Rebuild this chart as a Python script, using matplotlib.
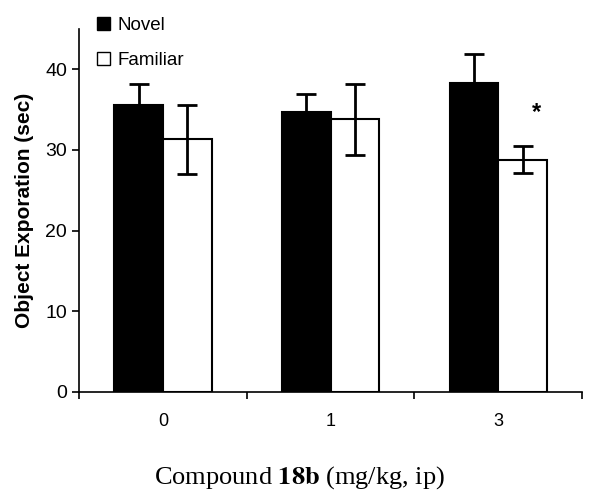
import numpy as np
import matplotlib.pyplot as plt
from matplotlib.patches import Patch

# Data
doses = ['0', '1', '3']
novel = [35.6, 34.7, 38.3]
novel_err = [2.6, 2.3, 3.6]
familiar = [31.3, 33.8, 28.8]
familiar_err = [4.3, 4.4, 1.7]

plt.rcParams['font.family'] = ['Liberation Sans', 'DejaVu Sans']
plt.rcParams['mathtext.fontset'] = 'stix'

fig = plt.figure(figsize=(5.91, 4.92), dpi=100)
ax = fig.add_axes([0.1337, 0.2038, 0.8513, 0.7372])

x = np.arange(len(doses))
w = 0.29

ax.bar(x - w/2, novel, w, color='black', edgecolor='black', linewidth=1.5, zorder=2)
ax.errorbar(x - w/2, novel, yerr=[np.zeros(3), novel_err], fmt='none',
            ecolor='black', elinewidth=2, capsize=7, capthick=2, zorder=3)
ax.bar(x + w/2, familiar, w, color='white', edgecolor='black', linewidth=1.5, zorder=2)
ax.errorbar(x + w/2, familiar, yerr=familiar_err, fmt='none',
            ecolor='black', elinewidth=2, capsize=7, capthick=2, zorder=3)

ax.text(2.23, 34.6, '*', fontsize=17, fontweight='bold', ha='center', va='center')

ax.set_xlim(-0.5, 2.5)
ax.set_ylim(0, 45)
ax.set_yticks([0, 10, 20, 30, 40])
ax.set_xticks(x)
ax.set_xticklabels(doses)
ax.set_xticks([-0.5, 0.5, 1.5, 2.5], minor=True)
ax.tick_params(axis='x', which='major', length=0, pad=15, labelsize=13)
ax.tick_params(axis='x', which='minor', length=5, width=1.2)
ax.tick_params(axis='y', length=5, width=1.2, labelsize=14)
for s in ['top', 'right']:
    ax.spines[s].set_visible(False)
for s in ['left', 'bottom']:
    ax.spines[s].set_linewidth(1.2)

ax.set_ylabel('Object Exporation (sec)', fontsize=15, fontweight='bold', labelpad=8)
fig.text(0.506, 0.03, r'Compound $\mathbf{18b}$ (mg/kg, ip)', fontsize=19,
         family='Liberation Serif', ha='center', va='center')

handles = [Patch(facecolor='black', edgecolor='black'),
           Patch(facecolor='white', edgecolor='black')]
fig.legend(handles, ['Novel', 'Familiar'], loc='upper left',
           bbox_to_anchor=(0.136, 1.0), frameon=False, fontsize=13.5,
           handlelength=0.7, handleheight=0.7, handletextpad=0.4, labelspacing=0.95)

fig.savefig('out.png', dpi=100)
